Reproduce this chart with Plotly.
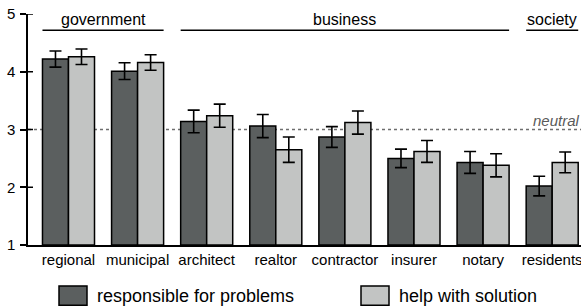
import plotly.graph_objects as go

categories = ["regional", "municipal", "architect", "realtor", "contractor", "insurer", "notary", "residents"]
responsible = [4.22, 4.01, 3.14, 3.06, 2.87, 2.50, 2.43, 2.02]
responsible_err = [0.14, 0.145, 0.195, 0.20, 0.18, 0.16, 0.19, 0.17]
helps = [4.26, 4.16, 3.24, 2.65, 3.12, 2.62, 2.38, 2.43]
helps_err = [0.135, 0.135, 0.20, 0.22, 0.20, 0.19, 0.20, 0.18]
series_names = ["responsible for problems", "help with solution"]
groups = ["government", "business", "society"]
group_start = [0, 2, 7]
group_end = [1, 6, 7]
yticks = [1, 2, 3, 4, 5]
neutral_value = 3

DARK = "rgb(91,95,95)"
LIGHT = "rgb(194,196,195)"
FONT = "Liberation Sans, Arial, sans-serif"
BARGAP = 0.247

fig = go.Figure()
for name, vals, errs, col in [(series_names[0], responsible, responsible_err, DARK),
                              (series_names[1], helps, helps_err, LIGHT)]:
    fig.add_trace(go.Bar(
        x=categories, y=[v - 1 for v in vals], base=1, name=name,
        marker=dict(color=col, line=dict(color="black", width=1.5)),
        error_y=dict(type="data", array=errs, color="black", thickness=1.6, width=6),
        showlegend=False,
    ))

shapes = []
annotations = []
# neutral dotted line
shapes.append(dict(type="line", xref="paper", yref="y", x0=0, x1=1, y0=neutral_value, y1=neutral_value,
                   line=dict(color="rgb(110,110,110)", width=1.5, dash="dot"), layer="below"))
annotations.append(dict(text="<i>neutral</i>", x=6.69, y=neutral_value, xref="x", yref="y",
                        xanchor="left", yanchor="bottom", showarrow=False, yshift=-1,
                        font=dict(family=FONT, size=15, color="rgb(90,90,90)")))
# y ticks crossing the axis (inner half)
for t in yticks:
    if t == yticks[0]:
        continue
    shapes.append(dict(type="line", xref="paper", yref="y", xsizemode="pixel", xanchor=0,
                       x0=0, x1=5, y0=t, y1=t, line=dict(color="black", width=1.5)))
# group headers
half = (1 - BARGAP) / 2
for g, s, e in zip(groups, group_start, group_end):
    x0 = s - half
    x1 = e + half
    shapes.append(dict(type="line", xref="x", yref="y", x0=x0, x1=x1, y0=4.72, y1=4.72,
                       line=dict(color="black", width=1.5)))
annotations.append(dict(text=groups[0], x=(group_start[0] + group_end[0]) / 2, y=4.72, xref="x", yref="y",
                        xanchor="center", yanchor="bottom", showarrow=False, yshift=0,
                        font=dict(family=FONT, size=16, color="black")))
annotations.append(dict(text=groups[1], x=(group_start[1] + group_end[1]) / 2, y=4.72, xref="x", yref="y",
                        xanchor="center", yanchor="bottom", showarrow=False, yshift=0,
                        font=dict(family=FONT, size=16, color="black")))
annotations.append(dict(text=groups[2], x=group_start[2], y=4.72, xref="x", yref="y",
                        xanchor="center", yanchor="bottom", showarrow=False, yshift=0,
                        font=dict(family=FONT, size=16, color="black")))

# custom legend
leg = [(59, DARK, series_names[0]), (361, LIGHT, series_names[1])]
W, H = 581, 307
for px, col, name in leg:
    shapes.append(dict(type="rect", xref="paper", yref="paper",
                       x0=(px - 28) / (W - 28), x1=(px + 28 - 28) / (W - 28),
                       y0=-(306 - 245.5) / (245.5 - 14), y1=-(286.5 - 245.5) / (245.5 - 14),
                       fillcolor=col, line=dict(color="black", width=1.5)))
    annotations.append(dict(text=name, xref="paper", yref="paper",
                            x=(px + 36 - 28) / (W - 28), y=-(297 - 245.5) / (245.5 - 14),
                            xanchor="left", yanchor="middle", showarrow=False,
                            font=dict(family=FONT, size=18, color="black")))

fig.update_layout(
    width=W, height=H,
    margin=dict(l=28, r=0, t=14, b=61.5, autoexpand=False),
    paper_bgcolor="white", plot_bgcolor="white",
    barmode="group", bargap=BARGAP, bargroupgap=0,
    font=dict(family=FONT, size=15, color="black"),
    shapes=shapes, annotations=annotations,
    xaxis=dict(range=[-0.586, 7.417], showline=True, linecolor="black", linewidth=1.5,
               ticks="", showgrid=False, zeroline=False, tickfont=dict(size=15), automargin=False),
    yaxis=dict(range=[1, 5], tickvals=yticks, showline=True, linecolor="black", linewidth=1.5,
               ticks="outside", ticklen=6, tickwidth=1.5, tickcolor="black", automargin=False,
               showgrid=False, zeroline=False, tickfont=dict(size=15), ticklabelstandoff=2),
)
fig.write_html("out.html", config={"displayModeBar": False},
               post_script="document.body.style.margin='0';document.body.style.overflow='hidden';")
